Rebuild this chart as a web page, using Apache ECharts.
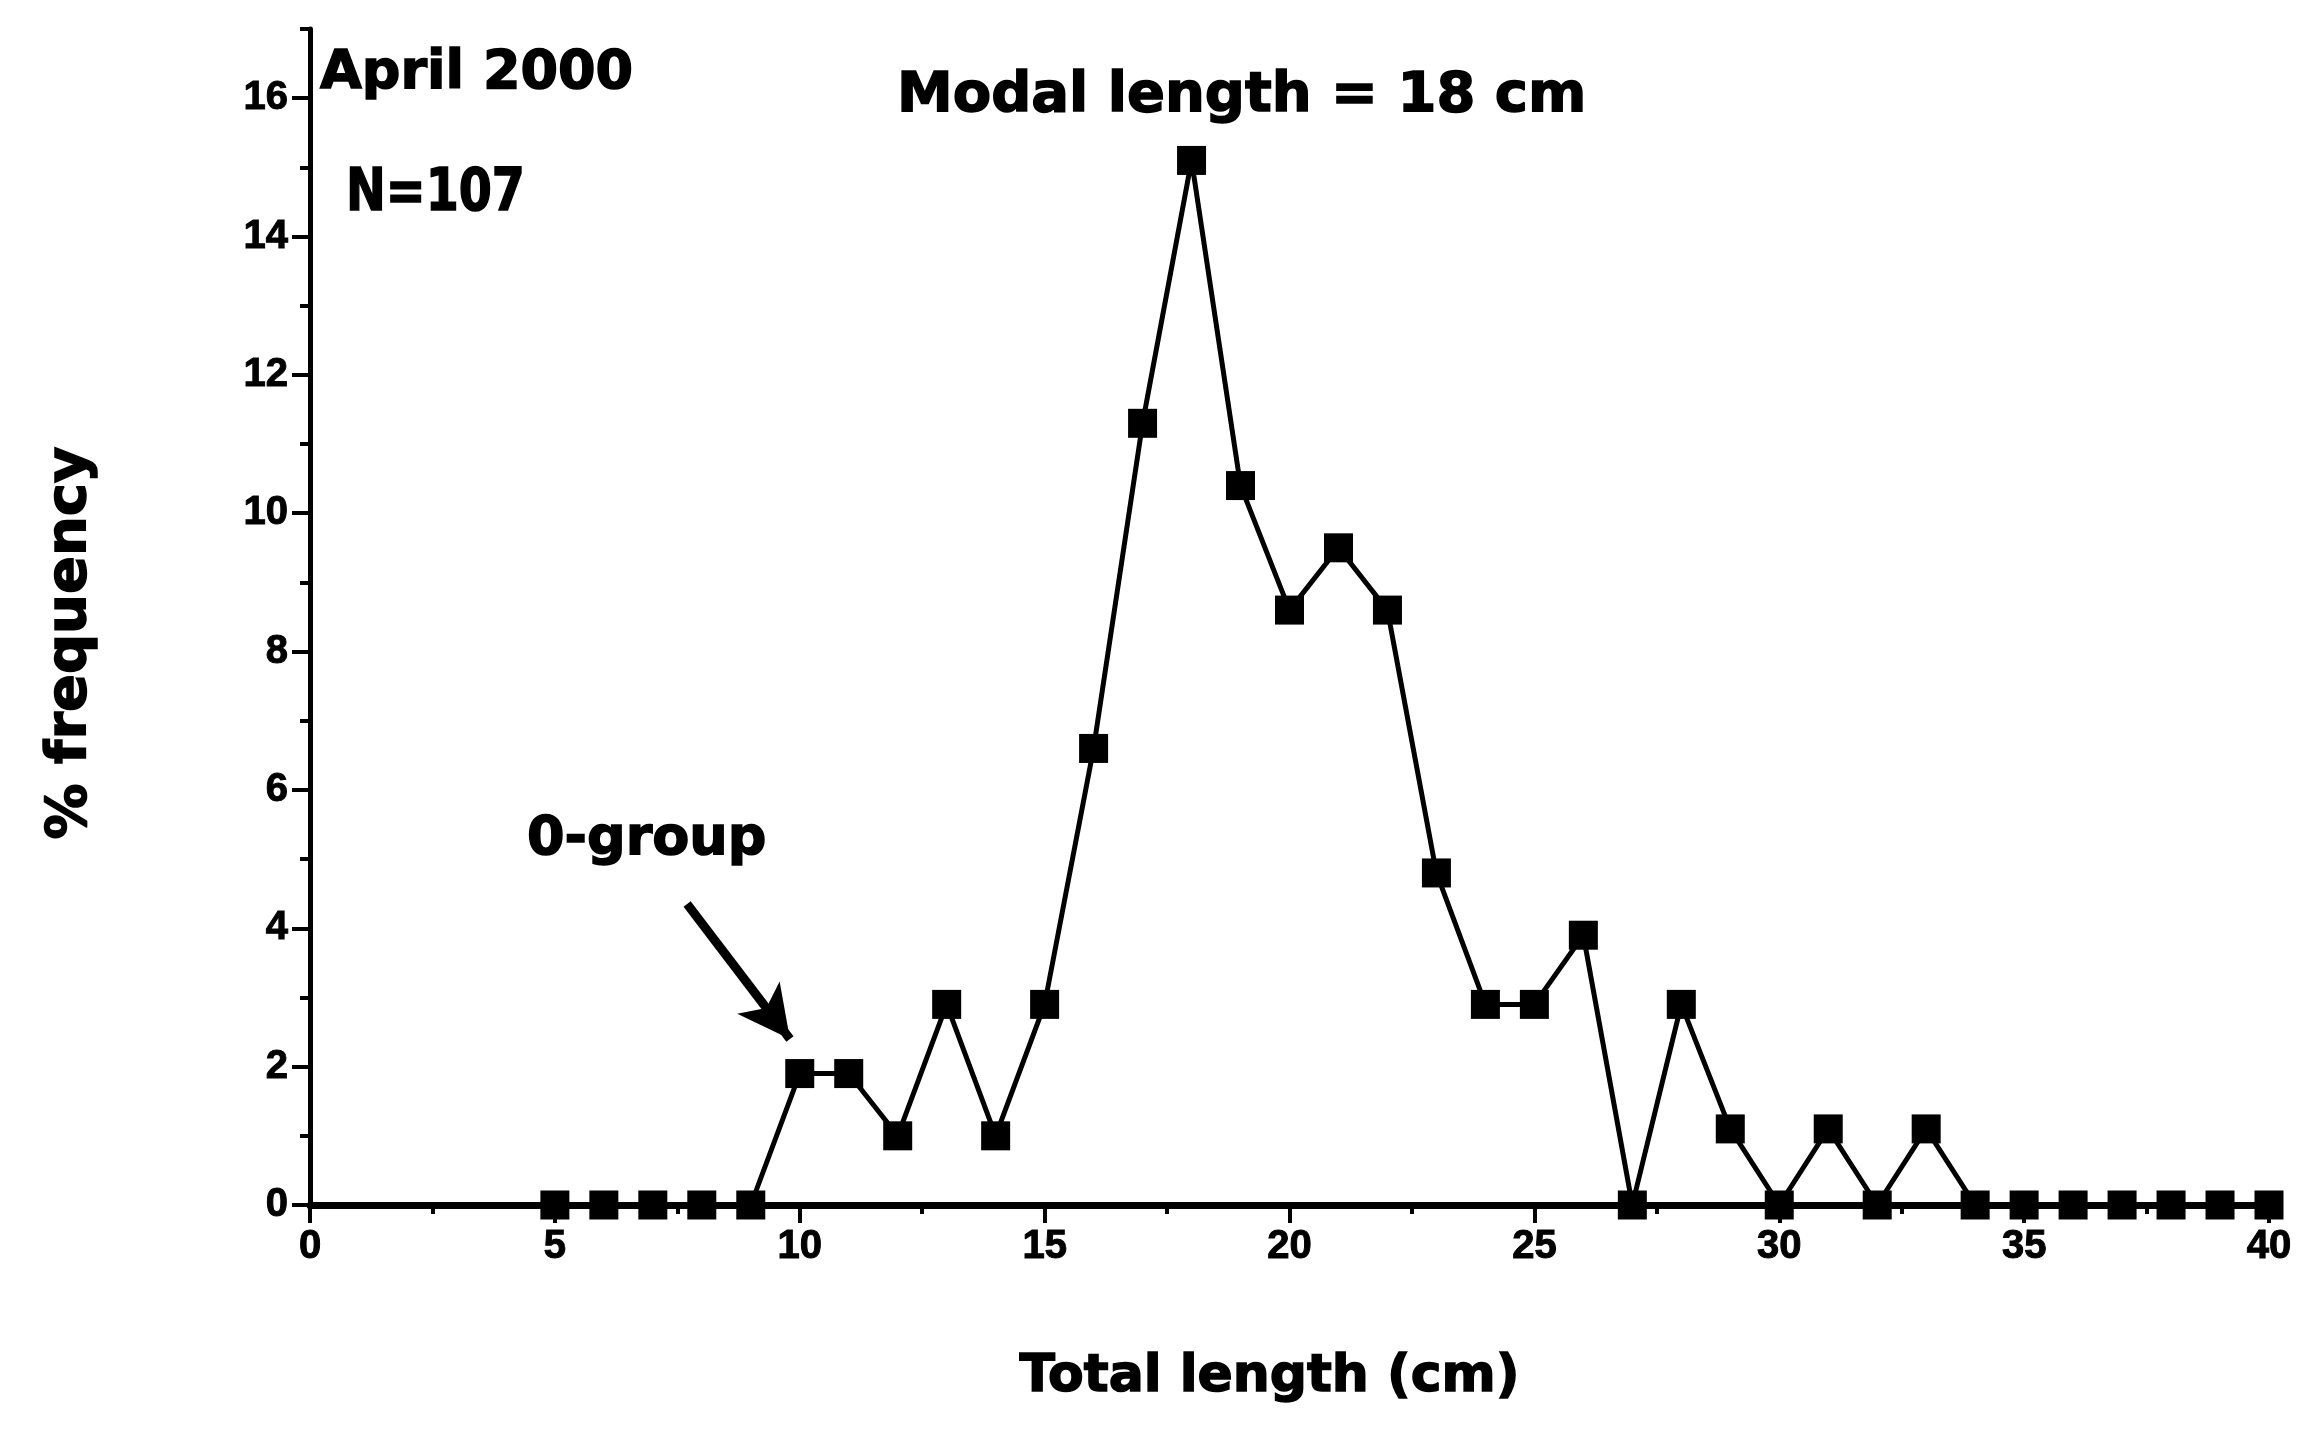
<!DOCTYPE html>
<html>
<head>
<meta charset="utf-8">
<title>April 2000 length frequency</title>
<script src="https://cdn.jsdelivr.net/npm/echarts@6/dist/echarts.min.js"></script>
<style>
  html, body { margin: 0; padding: 0; background: #fff; }
  #chart { width: 2307px; height: 1429px; }
</style>
</head>
<body>
<div id="chart"></div>
<script>
// Total length classes (cm) and the share of the sample in each class (%)
const lengthsCm = [5, 6, 7, 8, 9, 10, 11, 12, 13, 14, 15, 16, 17, 18, 19, 20, 21, 22,
                   23, 24, 25, 26, 27, 28, 29, 30, 31, 32, 33, 34, 35, 36, 37, 38, 39, 40];
const freqPct = [0, 0, 0, 0, 0, 1.9, 1.9, 1.0, 2.9, 1.0, 2.9, 6.6, 11.3, 15.1, 10.4, 8.6, 9.5, 8.6,
                 4.8, 2.9, 2.9, 3.9, 0, 2.9, 1.1, 0, 1.1, 0, 1.1, 0, 0, 0, 0, 0, 0, 0];

// Axis ticks
const yMajorTicks = [0, 2, 4, 6, 8, 10, 12, 14, 16];
const yMinorTicks = [1, 3, 5, 7, 9, 11, 13, 15, 17];
const xMajorTicks = [0, 5, 10, 15, 20, 25, 30, 35, 40];

// Text
const sampleLabel = 'April 2000';
const countLabel = 'N=107';
const modeLabel = 'Modal length = 18 cm';
const cohortLabel = '0-group';
const xTitle = 'Total length (cm)';
const yTitle = '% frequency';

// Arrow from the 0-group label towards the first juvenile class (data coords)
const arrowFrom = [7.7, 4.35];
const arrowTo = [9.8, 2.4];

const WIDE = '"DejaVu Sans", Verdana, sans-serif';
const NARROW = '"Liberation Sans", Arial, Helvetica, sans-serif';
const INK = '#000';

const points = lengthsCm.map((x, i) => [x, freqPct[i]]);

// heavy bold look for every text item
const heavy = { fontWeight: 'bold', color: INK, textBorderColor: INK, textBorderWidth: 1.5 };

function note(text, x, y, size, scaleX) {
  return {
    type: 'text', x: x, y: y, scaleX: scaleX || 1, originX: 0, originY: 0,
    style: { text: text, fontFamily: WIDE, fontWeight: 'bold', fontSize: size, fill: INK,
             stroke: INK, lineWidth: 1.5, align: 'left', verticalAlign: 'top' }
  };
}

const chart = echarts.init(document.getElementById('chart'), null, { renderer: 'canvas' });

chart.setOption({
  animation: false,
  backgroundColor: '#fff',
  grid: { left: 310, right: 38, top: 29, bottom: 224, containLabel: false },
  xAxis: {
    type: 'value',
    min: 0, max: 40, interval: 5,
    name: xTitle,
    nameLocation: 'middle',
    nameGap: 146,
    nameTextStyle: Object.assign({ fontFamily: WIDE, fontSize: 52, padding: [0, 40, 0, 0] }, heavy),
    axisLine: { onZero: false, lineStyle: { color: INK, width: 7 } },
    axisTick: { show: true, inside: false, length: 18, lineStyle: { color: INK, width: 4 } },
    minorTick: { show: true, splitNumber: 2, length: 9, lineStyle: { color: INK, width: 4 } },
    axisLabel: {
      margin: 22, fontFamily: NARROW, fontSize: 40, fontWeight: 'bold', color: INK,
      textBorderColor: INK, textBorderWidth: 1,
      formatter: v => (xMajorTicks.indexOf(v) >= 0 ? String(v) : '')
    },
    splitLine: { show: false },
    minorSplitLine: { show: false }
  },
  yAxis: [
    {
      type: 'value',
      min: 0, max: 17,
      name: yTitle,
      nameLocation: 'middle',
      nameGap: 212,
      nameRotate: 90,
      nameTextStyle: Object.assign({ fontFamily: WIDE, fontSize: 56, padding: [0, 52, 0, 0] }, heavy),
      axisLine: { show: true, onZero: false, lineStyle: { color: INK, width: 5 } },
      axisTick: { show: true, inside: false, length: 18, customValues: yMajorTicks,
                  lineStyle: { color: INK, width: 4 } },
      axisLabel: { customValues: yMajorTicks, margin: 22, fontFamily: NARROW, fontWeight: 'bold',
                   fontSize: 40, color: INK, textBorderColor: INK, textBorderWidth: 1 },
      splitLine: { show: false }
    },
    {
      type: 'value',
      min: 0, max: 17,
      position: 'left',
      axisLine: { show: false },
      axisTick: { show: true, inside: false, length: 10, customValues: yMinorTicks,
                  lineStyle: { color: INK, width: 4 } },
      axisLabel: { show: false },
      splitLine: { show: false }
    }
  ],
  series: [
    {
      type: 'line',
      data: points,
      symbol: 'rect',
      symbolSize: 29,
      showAllSymbol: true,
      itemStyle: { color: INK },
      lineStyle: { color: INK, width: 5 },
      z: 3,
      markLine: {
        silent: true,
        symbol: ['none', 'arrow'],
        symbolSize: [40, 52],
        label: { show: false },
        lineStyle: { color: INK, width: 9, type: 'solid' },
        data: [[{ coord: arrowFrom }, { coord: arrowTo }]]
      }
    }
  ],
  graphic: [
    note(sampleLabel, 320, 47, 54),
    note(countLabel, 346, 166, 58, 0.82),
    note(modeLabel, 897, 68, 56),
    note(cohortLabel, 527, 813, 54)
  ]
});
</script>
</body>
</html>
